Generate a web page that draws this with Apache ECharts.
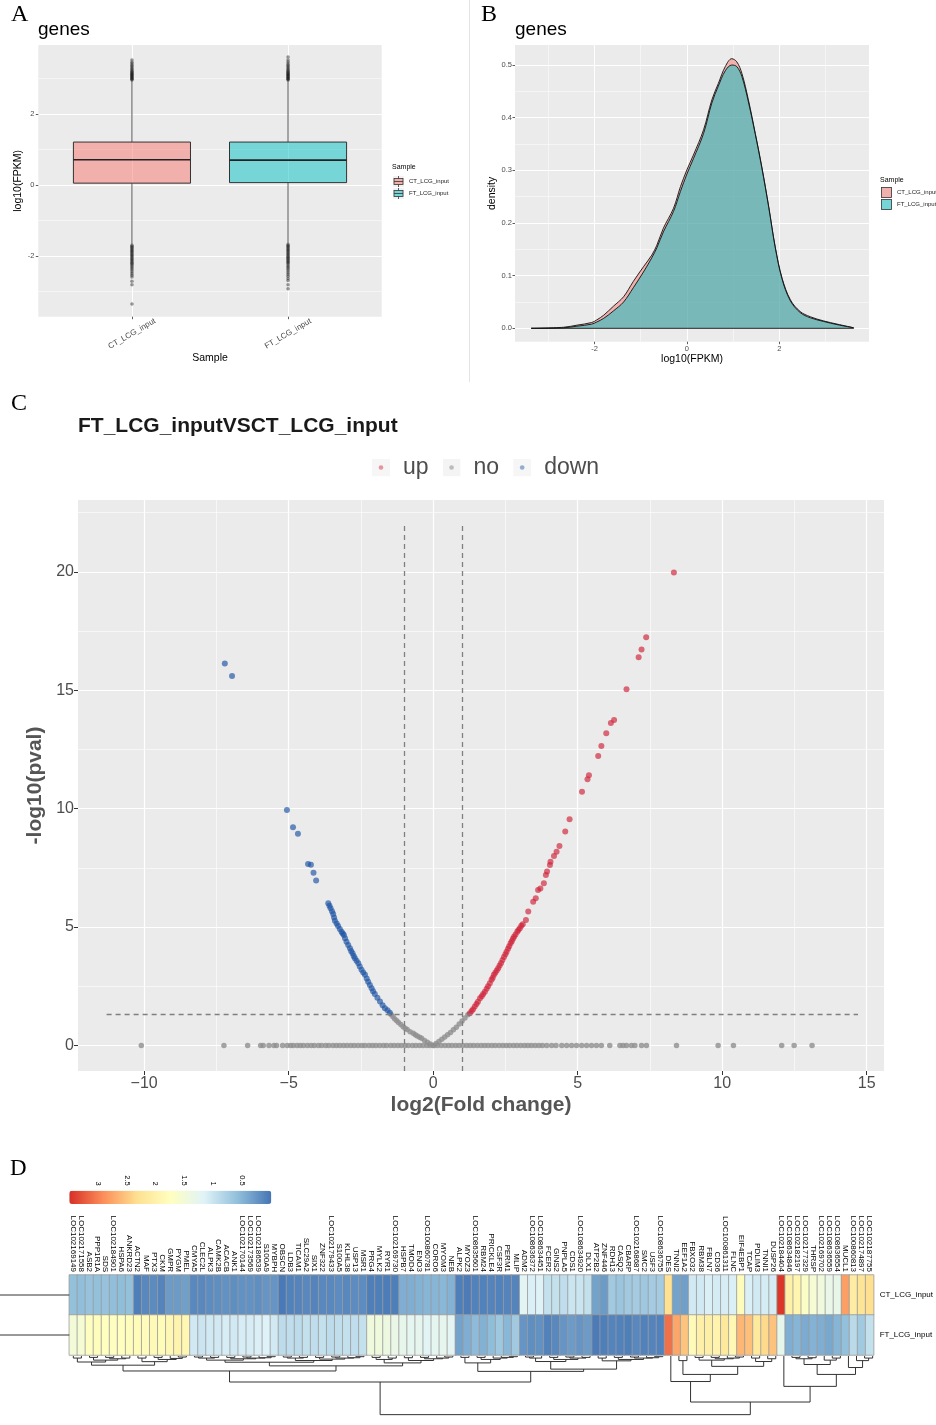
<!DOCTYPE html>
<html><head><meta charset="utf-8">
<script src="https://cdn.jsdelivr.net/npm/echarts/dist/echarts.min.js"></script>
<style>html,body{margin:0;padding:0;background:#fff}#c{width:936px;height:1425px}</style>
</head><body><div id="c"></div>
<script>
// ---------------- DATA ----------------
// Panel A: boxplot of log10(FPKM)
const boxCategories = ['CT_LCG_input', 'FT_LCG_input'];
// [lower whisker, Q1, median, Q3, upper whisker]
const boxStatsCT = [-1.68, 0.05, 0.71, 1.21, 2.95];
const boxStatsFT = [-1.66, 0.065, 0.70, 1.21, 2.95];
const outliersCT = [2.96,2.98,3.0,3.02,3.04,3.06,3.08,3.1,3.12,3.14,3.16,3.18,3.21,3.24,3.27,3.3,3.34,3.38,3.42,3.46,3.53,
  -1.7,-1.73,-1.76,-1.79,-1.82,-1.85,-1.88,-1.91,-1.94,-1.97,-2.0,-2.03,-2.06,-2.09,-2.12,-2.15,-2.18,-2.21,-2.24,-2.28,-2.32,-2.36,-2.4,-2.45,-2.5,-2.55,-2.6,-2.72,-2.82,-3.36];
const outliersFT = [2.96,2.98,3.0,3.02,3.04,3.06,3.08,3.1,3.12,3.14,3.16,3.18,3.21,3.24,3.27,3.3,3.34,3.38,3.42,3.47,3.53,3.61,
  -1.68,-1.71,-1.74,-1.77,-1.8,-1.83,-1.86,-1.89,-1.92,-1.95,-1.98,-2.01,-2.04,-2.07,-2.1,-2.13,-2.16,-2.19,-2.22,-2.26,-2.3,-2.34,-2.38,-2.43,-2.48,-2.53,-2.58,-2.64,-2.7,-2.82,-2.93];

// Panel B: density of log10(FPKM)
const densX  = [-3.37,-2.67,-2.38,-2.06,-1.95,-1.80,-1.59,-1.37,-1.16,-0.94,-0.76,-0.65,-0.51,-0.29,-0.14,0.00,0.14,0.36,0.54,0.68,0.83,0.97,1.08,1.19,1.33,1.48,1.62,1.77,1.91,2.06,2.24,2.45,2.67,2.96,3.25,3.61];
const densCT = [0,0.002,0.006,0.011,0.016,0.025,0.042,0.060,0.089,0.117,0.139,0.158,0.190,0.228,0.269,0.301,0.329,0.377,0.434,0.465,0.497,0.512,0.506,0.484,0.434,0.370,0.307,0.231,0.155,0.095,0.054,0.032,0.022,0.014,0.008,0.001];
const densFT = [0,0.001,0.004,0.008,0.012,0.019,0.033,0.050,0.077,0.107,0.134,0.153,0.183,0.222,0.260,0.293,0.322,0.370,0.428,0.460,0.489,0.500,0.497,0.478,0.430,0.368,0.305,0.230,0.154,0.093,0.052,0.030,0.020,0.013,0.007,0.001];

// Panel C: volcano plot [log2FC, -log10(pval)]
const upPoints = [[1.27,1.36],[1.33,1.45],[1.38,1.53],[1.44,1.64],[1.50,1.75],[1.55,1.84],[1.62,1.99],[1.68,2.08],[1.73,2.17],[1.79,2.27],[1.85,2.39],[1.90,2.50],[1.96,2.62],[2.02,2.77],[2.06,2.86],[2.10,2.98],[2.15,3.07],[2.20,3.16],[2.25,3.26],[2.30,3.37],[2.35,3.48],[2.40,3.61],[2.45,3.73],[2.50,3.85],[2.54,3.96],[2.59,4.08],[2.63,4.19],[2.68,4.31],[2.72,4.40],[2.76,4.50],[2.80,4.59],[2.85,4.68],[2.91,4.80],[2.95,4.87],[3.00,4.95],[3.05,5.05],[3.10,5.12],
  [3.21,5.30],[3.29,5.65],[3.46,6.07],[3.55,6.21],[3.63,6.56],[3.71,6.63],[3.83,6.85],[3.90,7.20],[3.94,7.34],[4.04,7.62],[4.06,7.76],[4.18,8.00],[4.27,8.18],[4.37,8.42],[4.57,9.03],[4.72,9.55],[5.15,10.71],[5.34,11.24],[5.39,11.41],[5.71,12.22],[5.82,12.64],[5.99,13.18],[6.15,13.61],[6.26,13.74],[6.69,15.04],[7.11,16.39],[7.21,16.72],[7.37,17.23],[8.33,19.97]];
const downPoints = [[-1.50,1.38],[-1.58,1.48],[-1.67,1.57],[-1.75,1.70],[-1.84,1.85],[-1.93,2.01],[-2.02,2.17],[-2.08,2.29],[-2.13,2.41],[-2.19,2.55],[-2.25,2.69],[-2.30,2.83],[-2.36,2.98],[-2.42,3.08],[-2.48,3.19],[-2.54,3.33],[-2.59,3.47],[-2.65,3.57],[-2.71,3.68],[-2.75,3.78],[-2.79,3.89],[-2.84,3.99],[-2.88,4.10],[-2.94,4.24],[-3.00,4.38],[-3.05,4.52],[-3.09,4.66],[-3.13,4.73],[-3.17,4.80],[-3.23,4.92],[-3.29,5.04],[-3.34,5.15],[-3.40,5.26],[-3.43,5.40],[-3.46,5.55],[-3.50,5.67],[-3.55,5.79],[-3.59,5.90],[-3.63,6.00],
  [-4.05,6.96],[-4.14,7.29],[-4.23,7.63],[-4.33,7.66],[-4.68,8.94],[-4.85,9.21],[-5.06,9.94],[-6.96,15.60],[-7.21,16.13]];
const noCurvePoints = [[-1.45,1.30],[-1.39,1.21],[-1.33,1.12],[-1.26,1.04],[-1.20,0.97],[-1.12,0.88],[-1.04,0.79],[-0.97,0.73],[-0.90,0.67],[-0.80,0.58],[-0.69,0.51],[-0.62,0.45],[-0.55,0.40],[-0.47,0.35],[-0.40,0.30],[-0.30,0.21],[-0.20,0.13],[-0.10,0.06],[0,0],
  [0.10,0.08],[0.20,0.17],[0.30,0.26],[0.40,0.36],[0.50,0.45],[0.60,0.55],[0.70,0.66],[0.80,0.77],[0.90,0.90],[1.00,1.03],[1.10,1.16],[1.20,1.29]];
const noBaselineFC = [-10.1,-7.24,-6.42,-5.97,-5.88,-5.68,-5.51,-5.42,-5.21,-5.05,-4.93,
  -4.84,-4.71,-4.6,-4.49,-4.35,-4.22,-4.11,-3.97,-3.86,-3.72,-3.61,-3.47,-3.35,-3.23,-3.1,-2.98,-2.85,-2.73,-2.6,-2.47,-2.36,-2.22,-2.1,-1.98,-1.85,-1.72,-1.61,-1.47,-1.35,-1.22,-1.1,-0.97,-0.86,-0.72,-0.6,-0.47,-0.35,-0.22,-0.11,0.03,0.15,0.28,0.41,0.53,0.65,0.78,0.9,1.03,1.16,1.28,1.4,1.53,1.66,1.78,1.9,2.03,2.15,2.28,2.41,2.53,2.65,2.78,2.9,3.03,3.16,3.28,3.4,3.53,3.66,3.78,
  3.93,4.1,4.25,4.45,4.62,4.79,4.96,5.14,5.31,5.48,5.65,5.82,6.11,6.46,6.57,6.69,6.86,6.98,7.21,7.38,8.42,9.86,10.39,12.06,12.49,13.11];
const fcCutoffs = [-1, 1];
const pCutoff = 1.3;
const cutoffSpanX = [-11.3, 14.7];
const cutoffSpanY = [-1.08, 22];

// Panel D: heatmap
const genes = ['LOC102169149','LOC102171558','ASB2','PPP1R1A','SDS','LOC102184901','HSPA6','ANKRD23','ACTN2','MAF','PTX3','CKM','GMPR','PYGM','PMEL','CMYA5','CLEC2L','ALPK3','CAMK2B','ACACB','ANK1','LOC102170144','LOC102173569','LOC102186539','S100A9','MYBPH','OBSCN','LDB3','TICAM1','SLC29A2','SIX1','ZNF322','LOC102179433','S100A5','KLHL38','USP13','MSR1','PRG4','MYLK2','RYR1','LOC102169730','HSPB7','TMOD4','ENO3','LOC100860781','CORO6','MYOM3','NEB','ALPK2','MYOZ3','LOC108635601','RBM24','PRICKLE4','CSF3R','PERM1','MLIP','ADM2','LOC108636372','LOC108634451','FCER2','GINS2','PNPLA5','CDS1','LOC108634920','DLX1','ATP2B2','ZNF446','RDH13','CASQ2','CBARP','LOC102168687','SMC2','USF3','LOC108636755','DES','TNNI2','EEF1A2','FBXO32','RBM38','FBLN7','CD36','LOC100861311','FLNC','EIF4EBP1','TCAP','PDLIM3','TNNI1','DUSP26','LOC102184404','LOC108634846','LOC102182197','LOC102177329','THRSP','LOC102169702','LOC108636559','LOC108636554','MUCL1','LOC100860813','LOC102174897','LOC102187755'];
const samples = ['CT_LCG_input', 'FT_LCG_input'];
const ctValues = [0.60,0.58,0.62,0.60,0.62,0.58,0.57,0.60, 0.08,0.15,0.17,0.12,0.30,0.30,0.33,
  0.15,0.15,0.18,0.20,0.22,0.20,0.22,0.22,0.20,0.25,0.25, 0.03,0.10,0.12,0.15,0.12,0.15,0.15,0.18,0.15,0.18,0.18,
  0.08,0.08,0.06,0.08, 0.45,0.45,0.48,0.50,0.50,0.52,0.48, 0.08,0.05,0.10,0.10,0.12,0.10,0.12,0.12,
  1.20,1.12,1.15,0.95,0.95,0.92,1.00,1.00,0.95, 0.35,0.30, 0.70,0.65,0.70,0.72,0.68,0.72,0.72, 2.30, 0.35,0.33,
  1.05,1.05,1.12,1.08,1.10,1.12,1.80,1.12,1.05,1.08,1.08, 3.45, 2.03,1.94,1.67,1.55,1.46,1.33,1.32, 2.78, 2.10,2.25,2.33];
const ftValues = [1.50,1.55,1.72,1.78,1.75,1.72,1.75,1.78,1.82,1.80,1.85,1.82,1.88,1.95,1.90,
  1.05,1.00,1.05,1.05,1.10,1.05,1.10,1.10,1.12,1.15,1.05, 0.90,0.92,0.90,0.95,0.92,0.95,0.90,0.93,0.95,0.92,0.95,
  1.45,1.45,1.40,1.35, 1.30,1.25,1.28,1.20,1.25,1.28,1.22, 0.35,0.45,0.55,0.47,0.57,0.68,0.52,0.70,
  0.25,0.20,0.22,0.10,0.15,0.25,0.30,0.25,0.30, 0.05,0.08,0.12,0.10,0.08,0.15,0.10,0.12,0.10, 3.09, 2.73,2.52,
  1.83,2.03,2.05,1.97,2.18,1.88,2.62,2.56,2.16,2.37,2.53, 1.30, 0.45,0.50,0.42,0.48,0.45,0.40,0.50, 0.60, 0.88,0.70,0.95];
const heatRange = [0, 3.49];
const heatColors = ['#4575B4','#91BFDB','#E0F3F8','#FFFFBF','#FEE090','#FC8D59','#D73027'];
const legendTicks = [0.5, 1, 1.5, 2, 2.5, 3];
// column clustering tree: [mergeHeight, left, right]; leaves = column number (1-based)
const colTree =
 [85,
  [37.7,
   [21.7,
    [13.3,
     [8.7,[3,1,2],[6,[2,3,4],[4,[2,5,6],[3,7,8]]]],
     [8.2,[3,9,10],[5,[2,11,12],[3.5,13,[1.5,14,15]]]]],
    [14.3,
     [9,
      [6,[3,[1.5,16,17],[2,18,19]],[4,[2,20,21],[3,[1.5,22,23],[2.5,24,[1,25,26]]]]],
      [6.5,[3,[1.5,27,28],[2,29,30]],[4.5,[2,31,32],[3,[1.5,33,34],[2.5,35,[1,36,37]]]]]],
     [10,[5,[2,38,39],[3,40,41]],[6.5,[2.5,42,43],[4,[2,44,45],[3,46,[1.5,47,48]]]]]]],
   [22.3,
    [10,[2,49,50],[5,[2,51,52],[3,53,[2,54,[1,55,56]]]]],
    [19,
     [8,[3,[1.5,57,58],59],[5,[2,60,61],[3,[1.5,62,63],[2,64,65]]]],
     [7,[3,66,67],[5,[2,68,69],[3,[1.5,70,71],[2.5,72,[1,73,74]]]]]]]],
  [66.7,
   [37,75,[26.7,[6.7,76,77],[15,[6,[2,78,79],[4,[2,80,81],[3,82,[1.5,83,84]]]],[8,[3,85,86],[4,87,88]]]]],
   [44,89,[26.7,[12.3,[4,[2,90,91],[2.5,92,93]],[6,94,[3,95,96]]],[16.7,97,[6.7,98,[3,99,100]]]]]]];
const rowTree = [80, 0, 1];

// ---------------- STYLE HELPERS ----------------
const SANS = "'Liberation Sans', Arial, Helvetica, sans-serif";
const SERIF = "'Liberation Serif', 'Times New Roman', serif";
const CT_FILL = 'rgba(248,118,109,0.5)', FT_FILL = 'rgba(0,191,196,0.5)';
const BG = '#EBEBEB';
const UP = '#CF1F35', DOWN = '#1A52A3', NO = '#8E8E8E';

function svgIcon(inner, w, h) {
  return 'image://data:image/svg+xml;charset=utf-8,' + encodeURIComponent(
    '<svg xmlns="http://www.w3.org/2000/svg" width="' + w + '" height="' + h + '" viewBox="0 0 ' + w + ' ' + h + '">' + inner + '</svg>');
}
function boxIcon(fill) {
  return svgIcon('<rect width="11" height="11" fill="#F2F2F2"/><line x1="5.5" y1="0" x2="5.5" y2="11" stroke="#333" stroke-width="0.8"/>' +
    '<rect x="1" y="2.5" width="9" height="6" fill="#EBEBEB" stroke="none"/><rect x="1" y="2.5" width="9" height="6" fill="' + fill + '" stroke="#333" stroke-width="0.8"/>' +
    '<line x1="1" y1="5.5" x2="10" y2="5.5" stroke="#333" stroke-width="0.8"/>', 11, 11);
}
function squareIcon(fill) {
  return svgIcon('<rect width="11" height="11" fill="#F2F2F2"/><rect x="0.5" y="0.5" width="10" height="10" fill="#EBEBEB"/><rect x="0.5" y="0.5" width="10" height="10" fill="' + fill + '" stroke="#333" stroke-width="0.8"/>', 11, 11);
}
function dotIcon(col) {
  return svgIcon('<rect width="18" height="18" fill="#F2F2F2"/><circle cx="9" cy="9" r="2.3" fill="' + col + '" fill-opacity="0.7"/>', 18, 18);
}
const minus = v => String(v).replace('-', '\u2212');
const NOLINE = {show: false, onZero: false};

function hiddenAxis(o) {
  return Object.assign({type: 'value', axisLine: NOLINE, axisTick: {show: false}, axisLabel: {show: false}, splitLine: {show: false}}, o);
}
function gridLines(width) { return {show: true, lineStyle: {color: '#FFFFFF', width: width}}; }

// ---------------- DERIVED ----------------
function boxRenderer(fill) {
  return function (params, api) {
    const x = api.value(0), lo = api.value(1), q1 = api.value(2), med = api.value(3), q3 = api.value(4), hi = api.value(5);
    const hw = 0.375;
    const pLo = api.coord([x, lo]), pHi = api.coord([x, hi]);
    const pQ1 = api.coord([x, q1]), pQ3 = api.coord([x, q3]);
    const left = api.coord([x - hw, med]), right = api.coord([x + hw, med]);
    return {type: 'group', children: [
      {type: 'line', shape: {x1: pHi[0], y1: pHi[1], x2: pQ3[0], y2: pQ3[1]}, style: {stroke: '#555', lineWidth: 1}},
      {type: 'line', shape: {x1: pQ1[0], y1: pQ1[1], x2: pLo[0], y2: pLo[1]}, style: {stroke: '#555', lineWidth: 1}},
      {type: 'rect', shape: {x: left[0], y: pQ3[1], width: right[0] - left[0], height: pQ1[1] - pQ3[1]}, style: {fill: fill, stroke: '#333', lineWidth: 1}},
      {type: 'line', shape: {x1: left[0], y1: left[1], x2: right[0], y2: right[1]}, style: {stroke: '#222', lineWidth: 1.6}}
    ]};
  };
}
const outlierData = outliersCT.map(v => [1, v]).concat(outliersFT.map(v => [2, v]));
const noPoints = noCurvePoints.concat(noBaselineFC.map(v => [v, 0]));

const heatData = [];
genes.forEach((g, i) => { heatData.push([i, 0, ctValues[i]]); heatData.push([i, 1, ftValues[i]]); });

const colSegs = [];
function layoutCol(node) {
  if (typeof node === 'number') return {x: node, h: 0};
  const a = layoutCol(node[1]), b = layoutCol(node[2]), h = node[0];
  colSegs.push({coords: [[a.x, a.h], [a.x, h], [b.x, h], [b.x, b.h]]});
  return {x: (a.x + b.x) / 2, h: h};
}
layoutCol(colTree);
const rowSegs = [];
function layoutRow(node) {
  if (typeof node === 'number') return {y: node, h: 0};
  const a = layoutRow(node[1]), b = layoutRow(node[2]), h = node[0];
  rowSegs.push({coords: [[a.h, a.y], [h, a.y], [h, b.y], [b.h, b.y]]});
  return {y: (a.y + b.y) / 2, h: h};
}
layoutRow(rowTree);

// ---------------- OPTION ----------------
const option = {
  animation: false,
  backgroundColor: '#FFFFFF',
  textStyle: {fontFamily: SANS},
  title: [
    {text: 'A', left: 11, top: 3, padding: 0, textStyle: {fontFamily: SERIF, fontSize: 24, fontWeight: 'normal', color: '#000'}},
    {text: 'genes', left: 38, top: 20, padding: 0, textStyle: {fontFamily: SANS, fontSize: 19, fontWeight: 'normal', color: '#000'}},
    {text: 'Sample', left: 392, top: 164, padding: 0, textStyle: {fontFamily: SANS, fontSize: 7, fontWeight: 'normal', color: '#000'}},
    {text: 'B', left: 481, top: 3, padding: 0, textStyle: {fontFamily: SERIF, fontSize: 24, fontWeight: 'normal', color: '#000'}},
    {text: 'genes', left: 515, top: 20, padding: 0, textStyle: {fontFamily: SANS, fontSize: 19, fontWeight: 'normal', color: '#000'}},
    {text: 'Sample', left: 880, top: 177, padding: 0, textStyle: {fontFamily: SANS, fontSize: 7, fontWeight: 'normal', color: '#000'}},
    {text: 'C', left: 11, top: 392, padding: 0, textStyle: {fontFamily: SERIF, fontSize: 24, fontWeight: 'normal', color: '#000'}},
    {text: 'FT_LCG_inputVSCT_LCG_input', left: 78, top: 416, padding: 0, textStyle: {fontFamily: SANS, fontSize: 21, fontWeight: 'bold', color: '#1a1a1a'}},
    {text: 'D', left: 10, top: 1157, padding: 0, textStyle: {fontFamily: SERIF, fontSize: 23, fontWeight: 'normal', color: '#000'}}
  ],
  legend: [
    {left: 393, top: 176, orient: 'vertical', itemWidth: 11, itemHeight: 11, itemGap: 1, padding: 0, selectedMode: false,
      textStyle: {fontSize: 6, color: '#1a1a1a', fontFamily: SANS},
      data: [{name: 'CT_LCG_input', icon: boxIcon(CT_FILL)}, {name: 'FT_LCG_input', icon: boxIcon(FT_FILL)}]},
    {left: 881, top: 187, orient: 'vertical', itemWidth: 11, itemHeight: 11, itemGap: 1, padding: 0, selectedMode: false,
      textStyle: {fontSize: 6, color: '#1a1a1a', fontFamily: SANS},
      data: [{name: 'CT_LCG_input', icon: squareIcon(CT_FILL)}, {name: 'FT_LCG_input', icon: squareIcon(FT_FILL)}]},
    {left: 372, top: 456, orient: 'horizontal', itemWidth: 18, itemHeight: 18, itemGap: 14, padding: 0, selectedMode: false,
      textStyle: {fontSize: 23, color: '#4D4D4D', fontFamily: SANS, padding: [0, 0, 0, 8]},
      data: [{name: 'up', icon: dotIcon(UP)}, {name: 'no', icon: dotIcon(NO)}, {name: 'down', icon: dotIcon(DOWN)}]}
  ],
  grid: [
    {left: 38.3, top: 45, width: 343.4, height: 271.7, show: true, backgroundColor: BG, borderWidth: 0},
    {left: 515, top: 45, width: 354, height: 296.7, show: true, backgroundColor: BG, borderWidth: 0},
    {left: 78, top: 500, width: 806, height: 571, show: true, backgroundColor: BG, borderWidth: 0},
    {left: 69.3, top: 1275, width: 807.4, height: 80},
    {left: 69.3, top: 1356, width: 807.4, height: 100},
    {left: 69.3, top: 1190.7, width: 202, height: 13.3},
    {left: 0, top: 1275, width: 69.3, height: 80}
  ],
  xAxis: [
    // 0: A
    {type: 'value', gridIndex: 0, min: 0.4, max: 2.6, axisLine: NOLINE,
      axisTick: {show: true, customValues: [1, 2], length: 2.5, lineStyle: {color: '#333', width: 0.8}},
      axisLabel: {customValues: [1, 2], formatter: v => boxCategories[Math.round(v) - 1], rotate: 30, align: 'center', verticalAlign: 'middle', fontSize: 8, color: '#4D4D4D', margin: 17},
      splitLine: gridLines(1),
      name: 'Sample', nameLocation: 'middle', nameGap: 36, nameTextStyle: {fontSize: 10.5, color: '#000'}},
    // 1: B major
    {type: 'value', gridIndex: 1, min: -3.72, max: 3.94, axisLine: NOLINE,
      axisTick: {show: true, customValues: [-2, 0, 2], length: 2.5, lineStyle: {color: '#333', width: 0.8}},
      axisLabel: {customValues: [-2, 0, 2], fontSize: 7.5, color: '#4D4D4D', margin: 3},
      splitLine: gridLines(1),
      name: 'log10(FPKM)', nameLocation: 'middle', nameGap: 11, nameTextStyle: {fontSize: 10.5, color: '#000'}},
    // 2: B minor
    hiddenAxis({gridIndex: 1, min: -3.72, max: 3.94, axisTick: {show: false, customValues: [-3, -1, 1, 3]}, splitLine: gridLines(0.5)}),
    // 3: C major
    {type: 'value', gridIndex: 2, min: -12.29, max: 15.6, axisLine: NOLINE,
      axisTick: {show: true, customValues: [-10, -5, 0, 5, 10, 15], length: 4, lineStyle: {color: '#333', width: 1}},
      axisLabel: {customValues: [-10, -5, 0, 5, 10, 15], formatter: minus, fontSize: 16, color: '#4D4D4D', margin: 5},
      splitLine: gridLines(1.2),
      name: 'log2(Fold change)', nameLocation: 'middle', nameGap: 24, nameTextStyle: {fontSize: 21, fontWeight: 'bold', color: '#555'}},
    // 4: C minor
    hiddenAxis({gridIndex: 2, min: -12.29, max: 15.6, axisTick: {show: false, customValues: [-7.5, -2.5, 2.5, 7.5, 12.5]}, splitLine: gridLines(0.6)}),
    // 5: D heatmap genes
    {type: 'category', gridIndex: 3, data: genes, position: 'top', axisLine: NOLINE, axisTick: {show: false},
      axisLabel: {interval: 0, rotate: 90, fontSize: 8, color: '#000', margin: 3}, splitLine: {show: false}},
    // 6: D column dendrogram
    hiddenAxis({gridIndex: 4, min: 0.5, max: 100.5}),
    // 7: D colour key axis
    {type: 'value', gridIndex: 5, min: heatRange[0], max: heatRange[1], inverse: true, position: 'top',
      axisLine: NOLINE, axisTick: {show: false, customValues: legendTicks},
      axisLabel: {customValues: legendTicks, rotate: 90, fontSize: 7.5, color: '#000', margin: 5}, splitLine: {show: false}},
    // 8: D row dendrogram
    hiddenAxis({gridIndex: 6, min: 0, max: 69.3, inverse: true})
  ],
  yAxis: [
    // 0: A major
    {type: 'value', gridIndex: 0, min: -3.72, max: 3.95, axisLine: NOLINE,
      axisTick: {show: true, customValues: [-2, 0, 2], length: 2.5, lineStyle: {color: '#333', width: 0.8}},
      axisLabel: {customValues: [-2, 0, 2], fontSize: 7.5, color: '#4D4D4D', margin: 4},
      splitLine: gridLines(1),
      name: 'log10(FPKM)', nameLocation: 'middle', nameGap: 14, nameRotate: 90, nameTextStyle: {fontSize: 10.5, color: '#000'}},
    // 1: A minor
    hiddenAxis({gridIndex: 0, min: -3.72, max: 3.95, axisTick: {show: false, customValues: [-3, -1, 1, 3]}, splitLine: gridLines(0.5)}),
    // 2: B major
    {type: 'value', gridIndex: 1, min: -0.0254, max: 0.538, axisLine: NOLINE,
      axisTick: {show: true, customValues: [0, 0.1, 0.2, 0.3, 0.4, 0.5], length: 2.5, lineStyle: {color: '#333', width: 0.8}},
      axisLabel: {customValues: [0, 0.1, 0.2, 0.3, 0.4, 0.5], formatter: v => v.toFixed(1), fontSize: 7.5, color: '#4D4D4D', margin: 3},
      splitLine: gridLines(1),
      name: 'density', nameLocation: 'middle', nameGap: 17, nameRotate: 90, nameTextStyle: {fontSize: 10.5, color: '#000'}},
    // 3: B minor
    hiddenAxis({gridIndex: 1, min: -0.0254, max: 0.538, axisTick: {show: false, customValues: [0.05, 0.15, 0.25, 0.35, 0.45]}, splitLine: gridLines(0.5)}),
    // 4: C major
    {type: 'value', gridIndex: 2, min: -1.08, max: 23.03, axisLine: NOLINE,
      axisTick: {show: true, customValues: [0, 5, 10, 15, 20], length: 4, lineStyle: {color: '#333', width: 1}},
      axisLabel: {customValues: [0, 5, 10, 15, 20], fontSize: 16, color: '#4D4D4D', margin: 4},
      splitLine: gridLines(1.2),
      name: '-log10(pval)', nameLocation: 'middle', nameGap: 30, nameRotate: 90, nameTextStyle: {fontSize: 21, fontWeight: 'bold', color: '#555'}},
    // 5: C minor
    hiddenAxis({gridIndex: 2, min: -1.08, max: 23.03, axisTick: {show: false, customValues: [2.5, 7.5, 12.5, 17.5, 22.5]}, splitLine: gridLines(0.6)}),
    // 6: D heatmap samples
    {type: 'category', gridIndex: 3, data: samples, inverse: true, position: 'right', axisLine: NOLINE, axisTick: {show: false},
      axisLabel: {fontSize: 8, color: '#000', margin: 6}, splitLine: {show: false}},
    // 7: D column dendrogram heights
    hiddenAxis({gridIndex: 4, min: 0, max: 100, inverse: true}),
    // 8: D colour key
    hiddenAxis({gridIndex: 5, min: 0, max: 1}),
    // 9: D row dendrogram
    {type: 'category', gridIndex: 6, data: samples, inverse: true, show: false}
  ],
  visualMap: {
    type: 'continuous', min: heatRange[0], max: heatRange[1], dimension: 2, seriesIndex: 11,
    orient: 'horizontal', inverse: true, left: 69.3, top: 1190.7, itemWidth: 13.3, itemHeight: 202,
    calculable: false, hoverLink: false, text: null, padding: 0, showLabel: false,
    inRange: {color: heatColors}
  },
  graphic: [
    {type: 'line', shape: {x1: 469.5, y1: 0, x2: 469.5, y2: 382}, style: {stroke: '#E4E4E4', lineWidth: 1}, silent: true}
  ],
  series: [
    {name: 'CT_LCG_input', type: 'custom', xAxisIndex: 0, yAxisIndex: 0, renderItem: boxRenderer(CT_FILL), data: [[1].concat(boxStatsCT)], z: 3},
    {name: 'FT_LCG_input', type: 'custom', xAxisIndex: 0, yAxisIndex: 0, renderItem: boxRenderer(FT_FILL), data: [[2].concat(boxStatsFT)], z: 3},
    {type: 'scatter', xAxisIndex: 0, yAxisIndex: 0, data: outlierData, symbolSize: 3.5, itemStyle: {color: 'rgba(20,20,20,0.55)'}, z: 4},
    {name: 'CT_LCG_input', type: 'line', xAxisIndex: 1, yAxisIndex: 2, data: densX.map((x, i) => [x, densCT[i]]), smooth: 0.35, showSymbol: false,
      lineStyle: {color: '#111', width: 0.9}, areaStyle: {color: CT_FILL, opacity: 1}, z: 3},
    {name: 'FT_LCG_input', type: 'line', xAxisIndex: 1, yAxisIndex: 2, data: densX.map((x, i) => [x, densFT[i]]), smooth: 0.35, showSymbol: false,
      lineStyle: {color: '#111', width: 0.9}, areaStyle: {color: FT_FILL, opacity: 1}, z: 4},
    {type: 'line', xAxisIndex: 1, yAxisIndex: 2, data: [[densX[0], 0], [densX[densX.length - 1], 0]], showSymbol: false, lineStyle: {color: '#111', width: 0.9}, z: 5},
    {name: 'no', type: 'scatter', xAxisIndex: 3, yAxisIndex: 4, data: noPoints, symbolSize: 5.5, itemStyle: {color: NO, opacity: 0.8}, z: 3},
    {name: 'down', type: 'scatter', xAxisIndex: 3, yAxisIndex: 4, data: downPoints, symbolSize: 6, itemStyle: {color: DOWN, opacity: 0.65}, z: 3},
    {name: 'up', type: 'scatter', xAxisIndex: 3, yAxisIndex: 4, data: upPoints, symbolSize: 6, itemStyle: {color: UP, opacity: 0.65}, z: 3},
    {type: 'lines', coordinateSystem: 'cartesian2d', xAxisIndex: 3, yAxisIndex: 4, z: 4,
      data: fcCutoffs.map(c => ({coords: [[c, cutoffSpanY[0]], [c, cutoffSpanY[1]]]})).concat([{coords: [[cutoffSpanX[0], pCutoff], [cutoffSpanX[1], pCutoff]]}]),
      lineStyle: {color: '#7F7F7F', width: 1.3, type: [5, 4], opacity: 1}},
    {type: 'scatter', xAxisIndex: 7, yAxisIndex: 8, data: [], silent: true},
    {type: 'heatmap', xAxisIndex: 5, yAxisIndex: 6, data: heatData, itemStyle: {borderColor: '#9A9A9A', borderWidth: 0.8}, emphasis: {disabled: true}},
    {type: 'lines', coordinateSystem: 'cartesian2d', polyline: true, xAxisIndex: 6, yAxisIndex: 7, data: colSegs,
      lineStyle: {color: '#333', width: 1, opacity: 1}, silent: true},
    {type: 'lines', coordinateSystem: 'cartesian2d', polyline: true, xAxisIndex: 8, yAxisIndex: 9, data: rowSegs,
      lineStyle: {color: '#333', width: 1, opacity: 1}, silent: true}
  ]
};
const chart = echarts.init(document.getElementById('c'), null, {renderer: 'canvas', devicePixelRatio: 1});
chart.setOption(option);
</script>
</body></html>
